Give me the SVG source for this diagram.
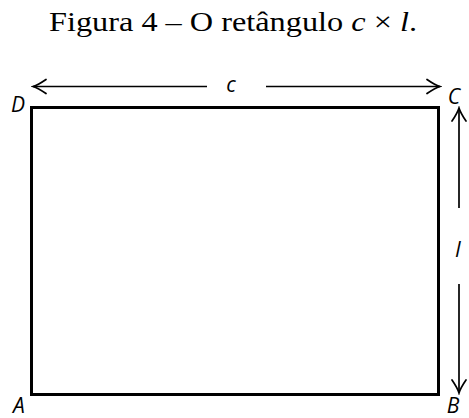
<svg xmlns="http://www.w3.org/2000/svg" width="469" height="418" viewBox="0 0 469 418">
<style>
.title{font-family:"Liberation Serif","DejaVu Serif",serif;font-size:28px;fill:#000}
.lbl{font-family:"Open Sans","DejaVu Sans",sans-serif;font-style:italic;font-size:21px;fill:#000}
.dim{stroke:#000;stroke-width:1.7;fill:none}
</style>
<defs>
<marker id="ah" viewBox="-16 -9 18 18" markerWidth="18" markerHeight="18" refX="0" refY="0" orient="auto" markerUnits="userSpaceOnUse">
<path d="M-13,-7 Q-5,-1.5 0,0 Q-5,1.5 -13,7" fill="none" stroke="#000" stroke-width="1.7" stroke-linecap="round"/>
</marker>
</defs>
<text class="title" x="233" y="31" text-anchor="middle" textLength="368" lengthAdjust="spacingAndGlyphs">Figura 4 – O retângulo <tspan font-style="italic">c</tspan> × <tspan font-style="italic">l</tspan>.</text>
<g id="rect">
<rect x="31.5" y="107.5" width="407" height="287" fill="none" stroke="#000" stroke-width="3"/>
</g>
<g id="connectors">
<line class="dim" x1="207" y1="86.5" x2="33" y2="86.5" marker-end="url(#ah)"/>
<line class="dim" x1="266" y1="86.5" x2="440" y2="86.5" marker-end="url(#ah)"/>
<line class="dim" x1="459" y1="208" x2="459" y2="108" marker-end="url(#ah)"/>
<line class="dim" x1="459" y1="284" x2="459" y2="393" marker-end="url(#ah)"/>
</g>
<g id="labels">
<text class="lbl" x="231" y="92" text-anchor="middle">c</text>
<text class="lbl" x="458" y="257" text-anchor="middle">l</text>
<text class="lbl" x="18" y="112" text-anchor="middle">D</text>
<text class="lbl" x="454" y="104" text-anchor="middle">C</text>
<text class="lbl" x="19" y="413" text-anchor="middle">A</text>
<text class="lbl" x="453" y="413" text-anchor="middle">B</text>
</g>
</svg>
